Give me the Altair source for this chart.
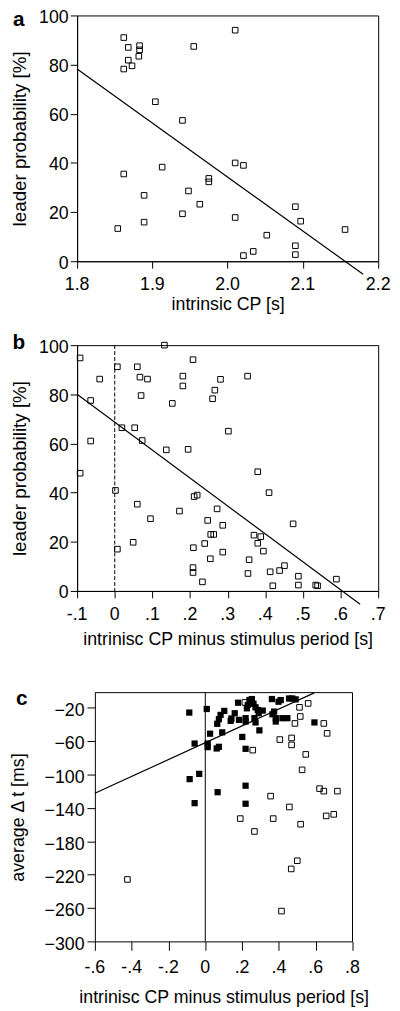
import altair as alt
import pandas as pd

FONT = "Liberation Sans"

# ---------- panel a ----------
a_x = [1.862, 1.868, 1.883, 1.883, 1.882, 1.868, 1.873, 1.862, 1.904, 1.940, 1.955,
       2.010, 2.010, 2.021, 1.913, 1.862, 1.975, 1.975, 1.948, 1.889, 1.963, 1.940,
       2.010, 1.889, 1.854, 2.090, 2.097, 2.156, 2.052, 2.090, 2.090, 2.034, 2.021]
a_y = [91.0, 87.0, 87.7, 86.0, 83.4, 81.8, 79.5, 78.2, 64.9, 57.3, 87.4,
       94.0, 40.0, 39.0, 38.3, 35.5, 33.7, 32.3, 28.6, 26.8, 23.2, 19.3,
       17.8, 15.9, 13.3, 22.2, 16.3, 12.9, 10.6, 6.3, 2.7, 4.0, 2.3]
a_fit_x = [1.80, 2.18]
a_fit_y = [78.2, -5.3]
a_ticks = [1.8, 1.9, 2.0, 2.1, 2.2]
a_tick_labels = ["1.8", "1.9", "2.0", "2.1", "2.2"]
ab_yticks = [0, 20, 40, 60, 80, 100]

# ---------- panel b ----------
b_x = [-0.092, -0.092, -0.040, -0.064, -0.064, 0.007, 0.019, 0.002, 0.007, 0.060,
       0.067, 0.087, 0.070, 0.053, 0.073, 0.060, 0.095, 0.049, 0.132, 0.181,
       0.181, 0.153, 0.137, 0.195, 0.208, 0.172, 0.211, 0.219, 0.209, 0.208,
       0.208, 0.239, 0.247, 0.272, 0.255, 0.263, 0.254, 0.233, 0.287, 0.287,
       0.281, 0.266, 0.260, 0.302, 0.353, 0.380, 0.410, 0.370, 0.388, 0.380,
       0.395, 0.357, 0.354, 0.413, 0.438, 0.451, 0.420, 0.474, 0.488, 0.488,
       0.534, 0.539, 0.589]
b_y = [94.8, 47.9, 86.2, 77.5, 61.0, 91.2, 66.4, 40.9, 17.0, 91.2,
       87.0, 86.2, 79.5, 66.4, 61.2, 35.3, 29.4, 19.8, 100.0, 87.4,
       83.4, 76.3, 57.4, 57.6, 94.1, 32.5, 38.4, 39.0, 17.6, 9.5,
       7.5, 19.3, 28.7, 33.4, 23.0, 23.0, 13.1, 3.7, 26.7, 15.8,
       86.1, 81.7, 78.2, 65.0, 87.4, 48.5, 40.0, 22.7, 22.1, 19.4,
       16.2, 12.7, 7.1, 7.8, 8.3, 10.3, 2.1, 27.3, 6.0, 2.4,
       2.4, 2.1, 4.8]
b_fit_x = [-0.10, 0.652]
b_fit_y = [80.0, -5.4]
b_ticks = [-0.1, 0.0, 0.1, 0.2, 0.3, 0.4, 0.5, 0.6, 0.7]
b_tick_labels = ["-.1", "0", ".1", ".2", ".3", ".4", ".5", ".6", ".7"]

# ---------- panel c ----------
c_filled_x = [-0.087, 0.008, -0.058, -0.085, -0.033, -0.058, 0.026, 0.013, 0.013, 0.062,
              0.074, 0.092, 0.065, 0.074, 0.083, 0.103, 0.067, 0.142, 0.138, 0.160,
              0.178, 0.183, 0.201, 0.219, 0.219, 0.226, 0.219, 0.219, 0.219, 0.240,
              0.253, 0.249, 0.262, 0.273, 0.290, 0.267, 0.273, 0.285, 0.312, 0.294,
              0.362, 0.374, 0.365, 0.383, 0.383, 0.398, 0.410, 0.419, 0.446, 0.455,
              0.473, 0.491, 0.593, 0.231]
c_filled_y = [-25.9, -21.6, -63.0, -105.6, -99.3, -134.4, -51.2, -63.0, -67.3, -68.9,
              -66.9, -49.6, -39.3, -33.8, -28.7, -23.9, -121.3, -33.0, -35.8, -26.7,
              -14.1, -34.6, -55.1, -32.6, -36.6, -20.8, -69.3, -113.5, -135.1, -10.9,
              -9.7, -14.9, -15.3, -19.6, -26.7, -32.6, -37.7, -22.8, -23.5, -47.2,
              -9.7, -24.7, -27.9, -32.6, -36.6, -12.9, -10.9, -32.6, -32.6, -9.0,
              -9.0, -10.1, -37.7, -16.8]
c_open_x = [0.215, 0.258, 0.405, 0.469, 0.469, 0.487, 0.512, 0.516, 0.559, 0.644,
            0.662, 0.546, 0.526, 0.621, 0.644, 0.718, 0.698, 0.657, 0.355, 0.457,
            0.369, 0.190, 0.267, 0.518, 0.500, 0.467, 0.414, -0.423]
c_open_y = [-13.7, -70.9, -58.2, -56.3, -64.6, -38.9, -19.6, -30.6, -14.9, -38.9,
            -50.8, -76.0, -94.5, -117.0, -120.0, -120.0, -147.8, -149.7, -126.0, -139.0,
            -152.9, -152.9, -168.3, -159.6, -203.4, -213.2, -263.7, -225.8]
c_fit_x = [-0.60, 0.592]
c_fit_y = [-122.5, -2.3]
c_xticks = [-0.6, -0.4, -0.2, 0.0, 0.2, 0.4, 0.6, 0.8]
c_tick_labels = ["-.6", "-.4", "-.2", "0", ".2", ".4", ".6", ".8"]
c_yticks = [-300, -260, -220, -180, -140, -100, -60, -20]

# ---------- layout constants ----------
W_AB, H_AB = 305, 249
C_OFF, W_C, H_C = 18, 279, 252


def axis_common(**extra):
    kw = dict(grid=False, domainColor="black", tickColor="black", labelColor="black",
              titleColor="black", labelFont=FONT, titleFont=FONT, labelFontSize=18,
              titleFontWeight="normal", domainWidth=1, tickWidth=1,
              labelOverlap=False, labelFlush=False)
    kw.update(extra)
    return alt.Axis(**kw)


def xaxis(values, tick, tpad):
    return axis_common(values=values, tickSize=tick, labels=False, titlePadding=tpad, titleFontSize=18)


def yaxis(values, tick, lpad, tpad, tsize, loff, offset=0):
    return axis_common(values=values, tickSize=tick, labelPadding=lpad, titlePadding=tpad,
                       titleFontSize=tsize, labelOffset=loff, offset=offset)


def letter(ch, dx, dy):
    return alt.Chart(pd.DataFrame({"t": [ch]})).mark_text(
        font=FONT, fontSize=21, fontWeight="bold", align="center", baseline="middle", color="black"
    ).encode(x=alt.value(dx), y=alt.value(dy), text="t:N")


def tick_text(ticks, labels, xenc, ypos):
    return alt.Chart(pd.DataFrame({"x": ticks, "lab": labels})).mark_text(
        font=FONT, fontSize=18, align="center", baseline="middle", color="black"
    ).encode(x=xenc, y=alt.value(ypos), text="lab:N")


def open_pts(df, xenc, yenc):
    return alt.Chart(df).mark_point(shape="square", size=32, filled=False, color="black",
                                    strokeWidth=1, opacity=1).encode(x=xenc, y=yenc)


def fit_line(df, xenc, yenc):
    return alt.Chart(df).mark_line(color="black", strokeWidth=1.2, clip=False).encode(x=xenc, y=yenc)


# panel a
xa = alt.X("x:Q", scale=alt.Scale(domain=[1.8, 2.2], nice=False, zero=False),
           axis=xaxis(a_ticks, 7, 27), title="intrinsic CP [s]")
ya = alt.Y("y:Q", scale=alt.Scale(domain=[0, 100], nice=False),
           axis=yaxis(ab_yticks, 7, 2, 9, 19, 2), title="leader probability [%]")
chart_a = alt.layer(
    open_pts(pd.DataFrame({"x": a_x, "y": a_y}), xa, ya),
    fit_line(pd.DataFrame({"x": a_fit_x, "y": a_fit_y}), xa, ya),
    tick_text(a_ticks, a_tick_labels, xa, H_AB + 24),
    letter("a", -59, 5),
).properties(width=W_AB, height=H_AB, view=alt.ViewBackground(stroke="black", strokeWidth=1))

# panel b
xb = alt.X("x:Q", scale=alt.Scale(domain=[-0.1, 0.7], nice=False, zero=False),
           axis=xaxis(b_ticks, 7, 33), title="intrinisc CP minus stimulus period [s]")
yb = alt.Y("y:Q", scale=alt.Scale(domain=[0, 100], nice=False),
           axis=yaxis(ab_yticks, 7, 2, 9, 19, 2), title="leader probability [%]")
zb = alt.Chart(pd.DataFrame({"x": [0.0]})).mark_rule(
    color="black", strokeWidth=1, strokeDash=[4, 2]).encode(x=xb)
chart_b = alt.layer(
    open_pts(pd.DataFrame({"x": b_x, "y": b_y}), xb, yb),
    fit_line(pd.DataFrame({"x": b_fit_x, "y": b_fit_y}), xb, yb),
    zb,
    tick_text(b_ticks, b_tick_labels, xb, H_AB + 24),
    letter("b", -59, -2),
).properties(width=W_AB, height=H_AB, view=alt.ViewBackground(stroke="black", strokeWidth=1))

# panel c  (y axis shifted right inside a wider view, frame drawn with rules)
xc = alt.X("x:Q", scale=alt.Scale(domain=[-0.6, 0.8], nice=False, zero=False, range=[C_OFF, W_C]),
           axis=xaxis(c_xticks, 9, 38), title="intrinisc CP minus stimulus period [s]")
yc = alt.Y("y:Q", scale=alt.Scale(domain=[-300, -2], nice=False, zero=False),
           axis=yaxis(c_yticks, 8, 3, 17, 18, 3, offset=-C_OFF), title="average \u0394 t [ms]")
pcf = alt.Chart(pd.DataFrame({"x": c_filled_x, "y": c_filled_y})).mark_square(
    size=40, color="black", opacity=1).encode(x=xc, y=yc)
zc = alt.Chart(pd.DataFrame({"x": [0.0]})).mark_rule(color="black", strokeWidth=1).encode(x=xc)
frame_top = alt.Chart(pd.DataFrame({"k": [0]})).mark_rule(color="black", strokeWidth=1).encode(
    x=alt.value(C_OFF), x2=alt.value(W_C), y=alt.value(0))
frame_right = alt.Chart(pd.DataFrame({"k": [0]})).mark_rule(color="black", strokeWidth=1).encode(
    x=alt.value(W_C), y=alt.value(0), y2=alt.value(H_C))
chart_c = alt.layer(
    pcf,
    open_pts(pd.DataFrame({"x": c_open_x, "y": c_open_y}), xc, yc),
    fit_line(pd.DataFrame({"x": c_fit_x, "y": c_fit_y}), xc, yc),
    zc, frame_top, frame_right,
    tick_text(c_xticks, c_tick_labels, xc, H_C + 27),
    letter("c", C_OFF - 74, 7),
).properties(width=W_C, height=H_C, view=alt.ViewBackground(stroke="transparent"))

top = alt.vconcat(chart_a, chart_b, spacing=18)
chart = alt.vconcat(top, chart_c, spacing=39).properties(
    padding={"left": 0, "top": -7, "right": 0, "bottom": 0}
).configure(background="white")

chart.save("out.html", embed_options={"renderer": "svg", "actions": False})
